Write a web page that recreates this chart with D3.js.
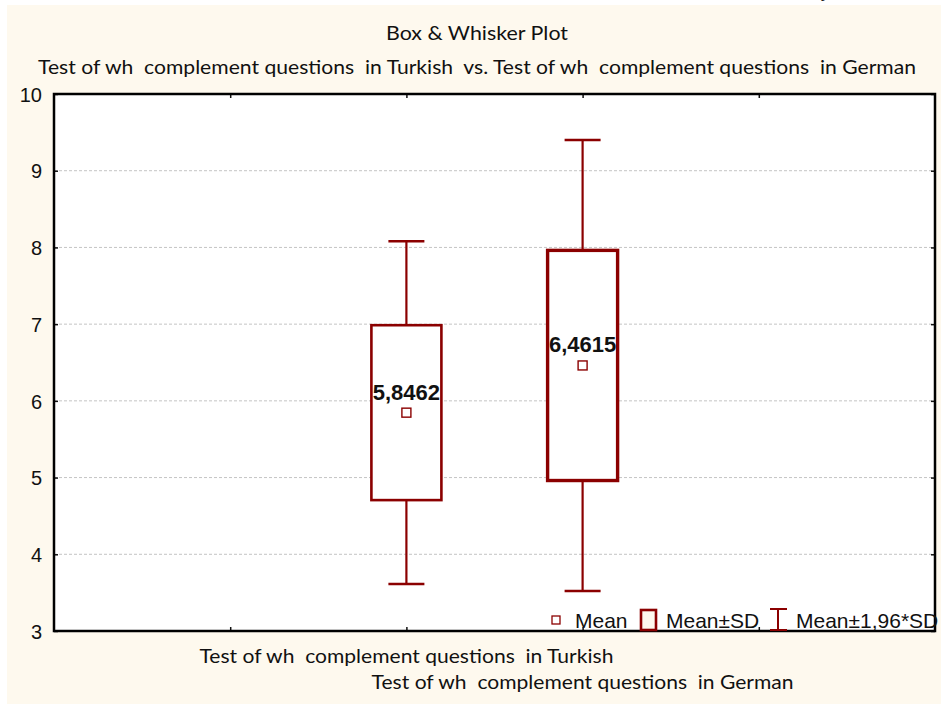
<!DOCTYPE html>
<html>
<head>
<meta charset="utf-8">
<script src="https://cdn.jsdelivr.net/npm/d3@7"></script>
<style>
  html, body { margin: 0; padding: 0; background: #ffffff; }
  svg { display: block; }
  text { white-space: pre; }
</style>
</head>
<body>
<svg id="chart" width="941" height="704"></svg>
<script>
// Variables and their summary statistics
const categories = [
  "Test of wh  complement questions  in Turkish",
  "Test of wh  complement questions  in German"
];
const means = [5.8462, 6.4615];
const sds = [1.14, 1.50];
const meanLabels = ["5,8462", "6,4615"];
const yTicks = [3, 4, 5, 6, 7, 8, 9, 10];
const legendItems = ["Mean", "Mean\u00B1SD", "Mean\u00B11,96*SD"];
const titleText = "Box & Whisker Plot";
const subtitleText = "Test of wh  complement questions  in Turkish  vs. Test of wh  complement questions  in German";

const W = 941, H = 704;
const margin = { left: 54, right: 6, top: 94, bottom: 73 };
const plotW = W - margin.left - margin.right;
const plotH = H - margin.top - margin.bottom;
const RED = "#8b0000";
const cream = "#fef9ee";
const narrowFont = "Lato, 'Open Sans', sans-serif";
const arial = "'Liberation Sans', Arial, sans-serif";

const svg = d3.select("#chart");

// page background
svg.append("rect").attr("x", 7).attr("y", 5).attr("width", W - 7).attr("height", H - 5).attr("fill", cream);

// stray glyph at the top edge
svg.append("text").attr("x", 823).attr("y", -4).attr("font-family", "'Liberation Serif', serif")
  .attr("font-style", "italic").attr("font-size", 20).attr("fill", "#222").text("y");

// titles
svg.append("text").attr("x", 477).attr("y", 40).attr("text-anchor", "middle")
  .attr("font-family", narrowFont).attr("font-size", 19).attr("fill", "#111")
  .attr("textLength", 182).attr("lengthAdjust", "spacingAndGlyphs").text(titleText);
svg.append("text").attr("x", 477).attr("y", 74).attr("text-anchor", "middle")
  .attr("font-family", narrowFont).attr("font-size", 19).attr("fill", "#111")
  .attr("textLength", 878).attr("lengthAdjust", "spacingAndGlyphs").text(subtitleText);

// scales
const slots = ["", categories[0], categories[1], " "];
const x = d3.scalePoint().domain(slots).range([margin.left, margin.left + plotW]).padding(1);
const y = d3.scaleLinear().domain([3, 10]).range([margin.top + plotH, margin.top]);

const g = svg.append("g");

// plot area
g.append("rect").attr("x", margin.left).attr("y", margin.top).attr("width", plotW).attr("height", plotH)
  .attr("fill", "#ffffff");

// gridlines
g.append("g").selectAll("line").data(yTicks.filter(t => t > 3 && t < 10)).join("line")
  .attr("x1", margin.left).attr("x2", margin.left + plotW)
  .attr("y1", d => y(d)).attr("y2", d => y(d))
  .attr("stroke", "#c4c4c4").attr("stroke-width", 1).attr("stroke-dasharray", "3,2");

// axes with inward ticks
const axL = d3.axisLeft(y).tickValues(yTicks).tickSizeInner(-4).tickSizeOuter(0).tickPadding(12).tickFormat(d3.format("d"));
const axR = d3.axisRight(y).tickValues(yTicks).tickSizeInner(-4).tickSizeOuter(0).tickFormat("");
const axT = d3.axisTop(x).tickSizeInner(-4).tickSizeOuter(0).tickFormat("");
const axB = d3.axisBottom(x).tickSizeInner(-4).tickSizeOuter(0).tickFormat("");

const gl = g.append("g").attr("transform", `translate(${margin.left},0)`).call(axL);
gl.selectAll("text").attr("font-family", arial).attr("font-size", 20).attr("fill", "#111").attr("dy", "0.36em");
g.append("g").attr("transform", `translate(${margin.left + plotW},0)`).call(axR);
g.append("g").attr("transform", `translate(0,${margin.top})`).call(axT);
g.append("g").attr("transform", `translate(0,${margin.top + plotH})`).call(axB);
g.selectAll(".domain").remove();
g.selectAll(".tick line").attr("stroke", "#111").attr("stroke-width", 1.5);

// frame
g.append("rect").attr("x", margin.left).attr("y", margin.top).attr("width", plotW).attr("height", plotH)
  .attr("fill", "none").attr("stroke", "#000").attr("stroke-width", 2.5);

// category labels, staggered
const catLabelY = [663, 689];
const catLabelW = [414, 422];
svg.append("g").selectAll("text").data(categories).join("text")
  .attr("x", d => x(d)).attr("y", (d, i) => catLabelY[i]).attr("text-anchor", "middle")
  .attr("font-family", narrowFont).attr("font-size", 19).attr("fill", "#111")
  .attr("textLength", (d, i) => catLabelW[i]).attr("lengthAdjust", "spacingAndGlyphs")
  .text(d => d);

// boxes and whiskers
const boxW = 70, capW = 36;
const stats = categories.map((c, i) => ({ c, mean: means[i], sd: sds[i], label: meanLabels[i], i }));
const boxG = svg.append("g").selectAll("g").data(stats).join("g");

boxG.append("line")
  .attr("x1", d => x(d.c)).attr("x2", d => x(d.c))
  .attr("y1", d => y(d.mean + 1.96 * d.sd)).attr("y2", d => y(d.mean + d.sd))
  .attr("stroke", RED).attr("stroke-width", 2.2);
boxG.append("line")
  .attr("x1", d => x(d.c)).attr("x2", d => x(d.c))
  .attr("y1", d => y(d.mean - d.sd)).attr("y2", d => y(d.mean - 1.96 * d.sd))
  .attr("stroke", RED).attr("stroke-width", 2.2);
[1, -1].forEach(s => {
  boxG.append("line")
    .attr("x1", d => x(d.c) - capW / 2).attr("x2", d => x(d.c) + capW / 2)
    .attr("y1", d => y(d.mean + s * 1.96 * d.sd)).attr("y2", d => y(d.mean + s * 1.96 * d.sd))
    .attr("stroke", RED).attr("stroke-width", 2.5);
});
boxG.append("rect")
  .attr("x", d => x(d.c) - boxW / 2).attr("width", boxW)
  .attr("y", d => y(d.mean + d.sd)).attr("height", d => y(d.mean - d.sd) - y(d.mean + d.sd))
  .attr("fill", "#ffffff").attr("stroke", RED).attr("stroke-width", d => d.i === 0 ? 2.6 : 3.4);
boxG.append("rect")
  .attr("x", d => x(d.c) - 4.5).attr("y", d => y(d.mean) - 4.5).attr("width", 9).attr("height", 9)
  .attr("fill", "#ffffff").attr("stroke", RED).attr("stroke-width", 1.4);
boxG.append("text")
  .attr("x", d => x(d.c)).attr("y", d => y(d.mean) - 13).attr("text-anchor", "middle")
  .attr("font-family", arial).attr("font-weight", "bold").attr("font-size", 22).attr("fill", "#111")
  .text(d => d.label);

// legend
const leg = svg.append("g").attr("font-family", arial).attr("font-size", 21).attr("fill", "#111");
const legBase = 628;
leg.append("rect").attr("x", 552).attr("y", 616).attr("width", 8).attr("height", 8)
  .attr("fill", "#fff").attr("stroke", RED).attr("stroke-width", 1.3);
leg.append("text").attr("x", 575).attr("y", legBase).text(legendItems[0]);
leg.append("rect").attr("x", 641).attr("y", 610).attr("width", 15).attr("height", 20)
  .attr("fill", cream).attr("stroke", RED).attr("stroke-width", 2.6);
leg.append("text").attr("x", 666).attr("y", legBase).text(legendItems[1]);
leg.append("line").attr("x1", 778).attr("x2", 778).attr("y1", 609).attr("y2", 630).attr("stroke", RED).attr("stroke-width", 2);
leg.append("line").attr("x1", 770).attr("x2", 787).attr("y1", 609).attr("y2", 609).attr("stroke", RED).attr("stroke-width", 2);
leg.append("line").attr("x1", 770).attr("x2", 787).attr("y1", 630).attr("y2", 630).attr("stroke", RED).attr("stroke-width", 2);
leg.append("text").attr("x", 796).attr("y", legBase).text(legendItems[2]);
</script>
</body>
</html>
